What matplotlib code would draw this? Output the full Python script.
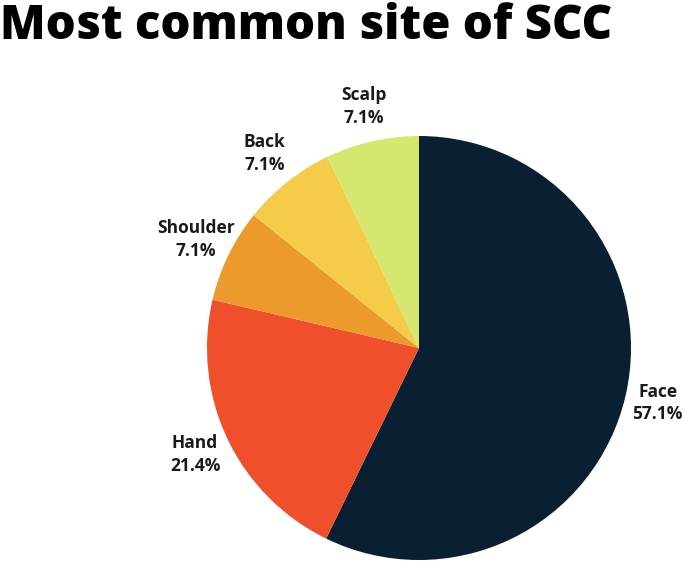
import matplotlib.pyplot as plt

# data
sites = ['Face', 'Hand', 'Shoulder', 'Back', 'Scalp']
shares = [57.1, 21.4, 7.1, 7.1, 7.1]
colors = ['#0b1f33', '#ef4f2b', '#ed9a2c', '#f4cc4a', '#d5e76f']

plt.rcParams['font.family'] = ['Open Sans', 'DejaVu Sans']

W, H = 685, 561
fig = plt.figure(figsize=(W / 100, H / 100), dpi=100)

# pie centre ~ (419, 348) px, radius ~212 px
cx, cy, r = 419, 348, 212
ax = fig.add_axes([(cx - r) / W, (H - cy - r) / H, 2 * r / W, 2 * r / H])

labels = [f'{s}\n{v:.1f}%' for s, v in zip(sites, shares)]
wedges, texts = ax.pie(
    shares, labels=labels, colors=colors,
    startangle=90, counterclock=False,
    labeldistance=1.17,
    textprops=dict(fontsize=12.5, fontweight='bold',
                   color='#1a1a1a', linespacing=1.35))
for t in texts:
    t.set_ha('center')
    t.set_va('center')
# face label sits a little closer to the edge
fx, fy = texts[0].get_position()
texts[0].set_position((fx * 1.155 / 1.17, fy * 1.155 / 1.17))

ax.set_xlim(-1, 1)
ax.set_ylim(-1, 1)
ax.set_aspect('equal')

fig.text(0.0, 1 - 3 / H, 'Most common site of SCC',
         ha='left', va='top', fontsize=34,
         fontweight='heavy', color='black')

fig.savefig('out.png', dpi=100)
